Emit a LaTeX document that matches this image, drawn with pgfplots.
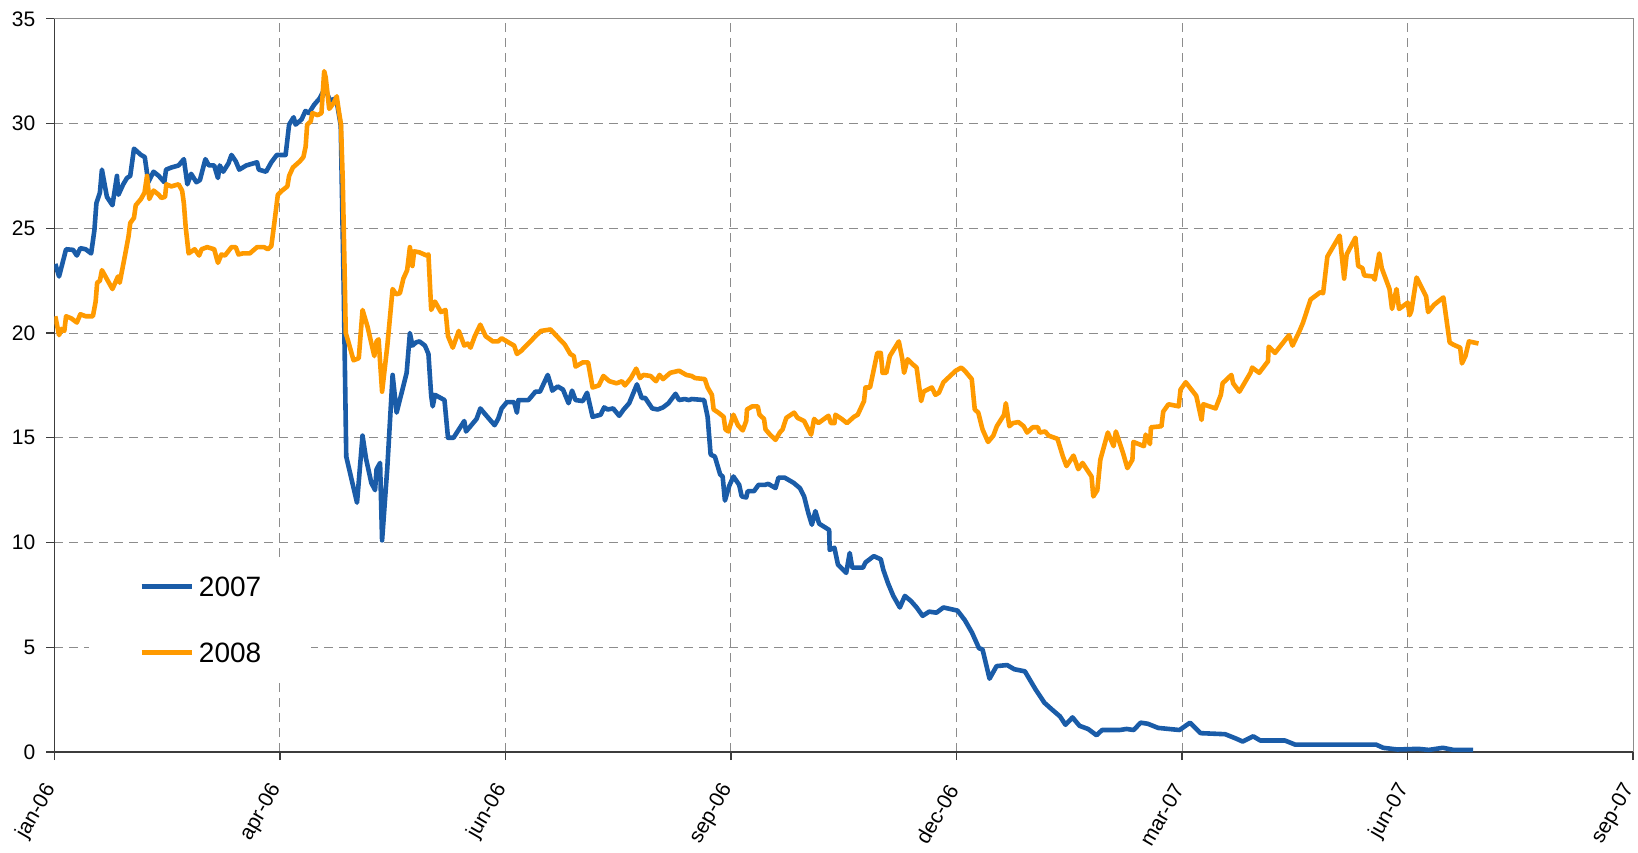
\documentclass[border=0pt]{standalone}
\usepackage{fontspec}
\setmainfont{Liberation Sans}
\usepackage{pgfplots}
\pgfplotsset{compat=1.18}
\usepackage{pgfplotstable}

\definecolor{s2007}{HTML}{1A5CA8}
\definecolor{s2008}{HTML}{FF9A00}
\definecolor{gridgray}{HTML}{8C8C8C}
\definecolor{axisdark}{HTML}{3C3C3C}

% x = days since 1 jan 2006, ticks every 90 days
\pgfplotstableread{
day value
0.4 23.3
1.9 22.7
4.7 24.0
7.5 23.97
9.0 23.7
10.4 24.05
12.5 24.0
14.7 23.8
16.0 24.9
16.8 26.2
18.2 26.7
19.0 27.8
21.0 26.5
23.2 26.1
25.0 27.5
25.6 26.6
27.5 27.1
29.0 27.4
30.3 27.5
31.8 28.8
34.6 28.5
36.1 28.4
37.5 27.2
39.6 27.7
41.7 27.5
43.9 27.2
44.6 27.8
46.7 27.9
49.6 28.0
51.7 28.3
53.1 27.1
54.6 27.6
56.7 27.2
58.1 27.3
60.3 28.3
61.7 28.0
63.8 28.0
65.3 27.4
66.0 28.0
67.4 27.7
69.5 28.1
70.7 28.5
72.4 28.2
73.8 27.8
76.6 28.0
80.9 28.15
81.6 27.8
84.5 27.7
86.6 28.15
88.8 28.5
92.3 28.5
93.7 29.95
95.5 30.3
96.3 29.95
98.7 30.2
100.2 30.6
101.6 30.5
103.7 30.9
105.9 31.2
108.0 31.7
110.0 31.1
112.5 31.2
114.3 29.9
115.5 22.0
116.5 14.1
120.8 11.9
123.0 15.1
124.4 14.0
126.5 12.85
128.0 12.5
128.6 13.5
130.0 13.8
130.8 10.1
132.9 13.6
135.0 18.0
136.6 16.2
140.6 18.1
141.9 20.0
142.9 19.4
144.3 19.55
145.7 19.6
147.9 19.4
149.3 19.0
150.4 17.0
151.0 16.5
151.9 17.05
155.7 16.8
157.1 15.0
159.3 15.0
163.6 15.8
164.3 15.3
168.5 15.9
170.0 16.4
172.1 16.1
175.7 15.6
177.1 15.9
178.5 16.4
180.6 16.7
183.5 16.7
184.6 16.2
185.2 16.8
189.2 16.8
192.0 17.2
193.8 17.2
196.9 18.0
198.3 17.45
198.7 17.25
200.9 17.45
203.0 17.3
205.2 16.65
206.6 17.25
208.0 16.8
210.9 16.75
212.6 17.15
214.8 16.0
218.0 16.1
219.4 16.45
220.8 16.35
223.0 16.4
225.4 16.05
227.2 16.35
229.4 16.65
232.5 17.55
234.4 16.9
235.8 16.9
238.6 16.4
240.8 16.35
242.9 16.45
245.1 16.65
247.9 17.1
249.3 16.8
251.5 16.85
253.3 16.8
254.3 16.85
259.3 16.8
260.7 16.0
261.9 14.2
263.6 14.1
265.7 13.25
266.7 13.15
267.6 12.0
269.3 12.7
271.0 13.15
273.3 12.75
274.3 12.2
276.1 12.15
276.7 12.45
279.2 12.45
281.0 12.75
283.5 12.75
284.9 12.8
287.8 12.6
289.0 13.1
291.4 13.1
295.0 12.85
297.5 12.6
299.2 12.2
300.9 11.4
302.3 10.85
303.7 11.5
305.2 10.9
309.2 10.6
309.4 9.65
311.3 9.75
312.7 8.95
316.0 8.55
317.4 9.5
318.4 8.8
322.7 8.8
323.7 9.05
327.0 9.35
329.8 9.2
330.8 8.7
332.7 8.05
334.8 7.45
337.4 6.9
339.4 7.45
341.9 7.2
344.1 6.9
346.5 6.5
349.1 6.7
352.0 6.65
354.8 6.9
360.4 6.75
363.3 6.3
366.2 5.7
369.0 4.95
370.4 4.9
373.2 3.5
376.0 4.1
380.2 4.15
383.1 3.95
387.3 3.85
391.5 3.0
395.1 2.35
397.9 2.05
401.3 1.7
403.5 1.3
406.3 1.65
409.1 1.25
412.5 1.1
415.9 0.8
418.1 1.05
425.1 1.05
427.9 1.1
430.7 1.05
433.5 1.4
436.3 1.35
440.5 1.15
449.0 1.05
453.2 1.4
457.4 0.9
467.2 0.85
471.4 0.65
474.2 0.5
478.4 0.75
481.2 0.55
491.0 0.55
495.2 0.35
502.2 0.35
527.5 0.35
530.3 0.2
535.9 0.12
544.3 0.15
548.5 0.1
554.1 0.2
558.3 0.1
566.2 0.1
}\seriesA

\pgfplotstableread{
day value
0.4 20.8
1.9 19.9
2.9 20.2
4.0 20.1
4.7 20.8
6.8 20.7
9.0 20.5
10.4 20.9
12.5 20.8
15.4 20.8
16.5 21.5
17.1 22.4
18.2 22.5
19.0 23.0
21.1 22.55
23.2 22.1
25.4 22.7
26.1 22.4
28.2 23.7
29.6 24.6
30.3 25.25
31.8 25.5
32.5 26.1
34.6 26.4
36.0 26.7
37.0 27.5
37.9 26.4
39.6 26.8
41.7 26.6
42.7 26.45
44.2 26.5
44.7 27.1
46.7 27.0
49.6 27.1
51.0 26.8
51.7 26.2
52.4 25.1
53.6 23.8
56.0 24.0
57.8 23.7
58.8 24.0
61.0 24.1
63.8 24.0
65.3 23.35
66.7 23.75
68.1 23.7
70.7 24.1
72.4 24.1
73.5 23.75
75.2 23.8
78.0 23.8
80.9 24.1
83.7 24.1
85.2 24.0
86.6 24.15
87.8 25.25
89.2 26.6
90.9 26.8
93.0 27.0
93.7 27.5
95.2 27.9
98.0 28.2
99.4 28.4
100.3 28.9
100.9 29.95
102.3 30.1
103.0 30.5
105.1 30.4
106.6 30.5
107.7 32.5
108.3 32.2
109.7 30.7
111.6 31.0
112.7 31.3
113.4 30.7
114.4 29.95
115.1 27.3
115.8 23.2
116.3 20.0
117.3 19.6
119.4 18.7
121.5 18.8
123.0 21.1
125.0 20.3
127.7 18.9
128.6 19.6
129.4 19.7
130.8 17.2
132.9 19.4
135.0 22.1
136.4 21.85
137.9 21.9
139.3 22.6
140.8 23.0
141.9 24.1
142.9 23.2
143.6 23.9
145.7 23.85
148.6 23.7
149.3 23.75
150.4 21.1
151.9 21.5
154.3 21.0
156.1 21.1
157.1 19.85
159.0 19.3
161.4 20.1
163.6 19.4
165.0 19.5
166.1 19.3
167.8 19.85
170.0 20.4
172.1 19.85
175.0 19.6
177.1 19.6
178.5 19.75
182.0 19.5
183.5 19.4
184.6 19.0
186.3 19.15
189.2 19.5
192.0 19.85
194.2 20.1
198.0 20.17
200.9 19.8
203.7 19.45
205.9 19.0
207.3 18.9
208.0 18.4
210.9 18.6
213.0 18.6
214.8 17.4
217.3 17.5
219.1 17.95
221.5 17.7
224.4 17.6
226.5 17.7
227.7 17.5
230.1 17.85
232.2 18.3
233.7 17.85
235.1 18.0
237.9 17.95
240.1 17.7
241.5 18.0
242.9 17.8
245.8 18.1
249.3 18.2
252.2 18.0
254.3 17.95
255.7 17.85
259.6 17.8
260.7 17.4
262.4 17.05
263.1 16.35
265.0 16.2
267.1 16.0
267.8 15.4
269.0 15.3
271.0 16.1
272.8 15.6
274.7 15.35
276.1 15.8
276.4 16.35
278.5 16.5
280.7 16.5
281.4 16.1
283.2 15.9
283.8 15.4
285.6 15.15
287.8 14.9
289.5 15.25
290.6 15.4
292.1 15.95
295.2 16.2
296.6 15.95
299.2 15.8
300.9 15.4
302.0 15.15
303.2 15.9
304.9 15.7
308.9 16.05
309.9 15.7
311.3 15.7
311.7 16.1
314.2 15.9
316.3 15.7
317.7 15.85
319.1 16.0
320.6 16.1
323.1 16.75
323.7 17.4
325.5 17.4
328.4 19.05
329.8 19.05
330.5 18.1
332.0 18.1
333.4 18.9
337.0 19.6
338.4 18.75
339.1 18.1
340.5 18.75
342.6 18.5
344.1 18.35
345.9 16.75
346.9 17.2
347.6 17.25
350.2 17.4
351.6 17.05
353.0 17.15
354.8 17.65
359.7 18.2
361.9 18.35
363.3 18.2
366.1 17.8
367.3 16.35
368.7 16.2
370.4 15.4
372.6 14.8
374.7 15.1
376.1 15.55
379.0 16.1
379.7 16.65
381.1 15.55
382.5 15.7
384.7 15.75
386.8 15.55
388.2 15.25
390.4 15.5
392.5 15.5
393.2 15.25
395.4 15.3
396.8 15.1
400.3 14.95
402.5 14.1
403.9 13.65
406.7 14.15
408.6 13.5
410.3 13.8
413.9 13.15
414.6 12.2
416.2 12.5
417.4 13.95
420.4 15.25
422.7 14.6
423.6 15.3
426.4 14.3
428.2 13.55
430.2 13.95
430.6 14.8
434.8 14.6
435.5 15.15
437.2 14.7
437.6 15.5
441.8 15.55
442.5 16.25
444.6 16.6
448.7 16.5
449.4 17.3
451.5 17.65
455.7 17.0
457.8 15.85
458.5 16.6
463.4 16.4
465.5 17.05
466.2 17.6
469.7 18.0
470.4 17.6
472.9 17.2
477.3 18.1
478.0 18.35
480.8 18.1
484.3 18.65
484.6 19.35
487.1 19.05
492.7 19.9
494.1 19.4
496.9 20.1
498.3 20.5
501.3 21.6
505.2 21.95
506.3 21.9
508.0 23.65
512.9 24.65
514.7 22.6
515.7 23.75
519.2 24.55
520.3 23.2
522.0 23.1
522.7 22.75
526.2 22.7
526.9 22.55
528.7 23.8
529.7 23.1
532.8 22.1
533.8 21.15
535.6 22.1
536.6 21.15
540.1 21.45
540.8 20.85
541.5 21.05
543.6 22.65
547.4 21.75
548.2 21.0
550.6 21.35
554.3 21.7
556.8 19.55
558.2 19.45
561.0 19.3
561.7 18.55
563.1 18.9
564.5 19.6
568.3 19.5
}\seriesB

\begin{document}
\begin{tikzpicture}
\useasboundingbox (-27.15pt,-50pt) rectangle (791.85pt,376pt);
\begin{axis}[
  name=ax,
  at={(0,0)}, anchor=south west,
  scale only axis,
  width=789.4pt, height=366.6pt,
  xmin=0, xmax=630,
  ymin=0, ymax=35,
  enlargelimits=false,
  xtick={0,90,...,630},
  xticklabels={jan-06,apr-06,jun-06,sep-06,dec-06,mar-07,jun-07,sep-07},
  ytick={0,5,...,35},
  axis lines*=left,
  axis line style={axisdark, line width=0.7pt},
  tick align=outside,
  major tick length=4pt,
  tick style={axisdark, line width=0.7pt},
  grid=major,
  major grid style={gridgray, line width=0.5pt, dash pattern=on 4.5pt off 3pt},
  tick label style={font=\fontsize{10.5}{12}\selectfont, black},
  xticklabel style={yshift=-10pt, rotate=60, anchor=east},
  yticklabel style={xshift=-2pt},
  /pgf/number format/assume math mode=true,
  legend image code/.code={\draw[#1] (0pt,0pt) -- (25pt,0pt);},
  legend cell align=left,
  legend style={at={(0.02198,0.0948)}, anchor=south west,
    draw=none, fill=white, inner xsep=25pt, inner ysep=10pt,
    row sep=23pt, column sep=2.5pt,
    font=\fontsize{14}{16}\selectfont,
    nodes={inner sep=0pt, text depth=0pt}},
]
\addplot[s2007, line width=2.3pt, line join=round] table[x=day, y=value] {\seriesA};
\addlegendentry{2007}
\addplot[s2008, line width=2.3pt, line join=round] table[x=day, y=value] {\seriesB};
\addlegendentry{2008}
\end{axis}
\draw[gridgray, line width=0.6pt] (ax.north west) -- (ax.north east) -- (ax.south east);
\end{tikzpicture}
\end{document}
